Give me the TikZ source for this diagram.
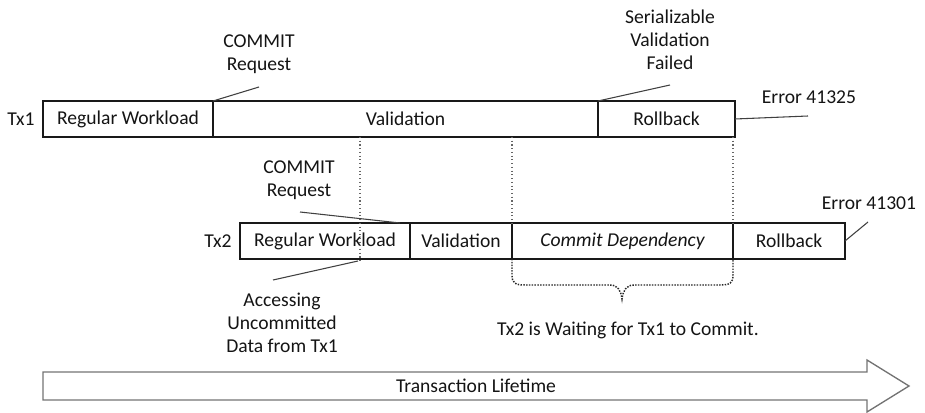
\documentclass[tikz,border=0pt]{standalone}
\usepackage{fontspec}
\setmainfont{Carlito}
\begin{document}
\begin{tikzpicture}[x=0.75pt,y=-0.75pt,
  every node/.style={font=\fontsize{14.7pt}{17.3pt}\selectfont, text=black!92},
  phase/.style={draw=black!90, line width=1.1pt, inner sep=0pt, outer sep=0pt,
    minimum height=27pt, anchor=center},
  note/.style={align=center, inner sep=0pt},
  leader/.style={draw=black!75, line width=0.8pt},
  guide/.style={draw=black!60, line width=0.8pt, dotted},
  bracepath/.style={draw=black!85, line width=1.1pt, densely dotted},
]
\useasboundingbox (0,0) rectangle (925,413);

% Tx1 row
\node[note] (tx1) at (21,119) {Tx1};
\node[phase, minimum width=170*0.75pt] (t1rw) at (128,119) {Regular Workload};
\node[phase, minimum width=385*0.75pt] (t1val) at (405.5,119) {Validation};
\node[phase, minimum width=137*0.75pt] (t1rb) at (666.5,119) {Rollback};

% Tx2 row
\node[note] (tx2) at (218,241) {Tx2};
\node[phase, minimum width=170*0.75pt] (t2rw) at (325,241) {Regular Workload};
\node[phase, minimum width=102*0.75pt] (t2val) at (461,241) {Validation};
\node[phase, minimum width=221*0.75pt] (t2cd) at (622.5,241) {\itshape Commit Dependency};
\node[phase, minimum width=112*0.75pt] (t2rb) at (789,241) {Rollback};

% notes
\node[note] (c1) at (259,54) {COMMIT\\Request};
\node[note] (svf) at (670,40) {Serializable\\Validation\\Failed};
\node[note] (e1) at (809,97) {Error 41325};
\node[note] (c2) at (299,180) {COMMIT\\Request};
\node[note] (e2) at (869,203) {Error 41301};
\node[note] (acc) at (282,323) {Accessing\\Uncommitted\\Data from Tx1};
\node[note] (wait) at (628,330) {Tx2 is Waiting for Tx1 to Commit.};

% leader end points
\coordinate (c1p) at (259,87);
\coordinate (svfp) at (670,85);
\coordinate (e1p) at (808,116);
\coordinate (c2p) at (300,212);
\coordinate (c2q) at (400,223);
\coordinate (accp) at (273,280);
\coordinate (accq) at (358,261);
\coordinate (e2p) at (868,222);

\draw[leader] (c1p) -- (t1val.north west);
\draw[leader] (svfp) -- (t1rb.north west);
\draw[leader] (t1rb.east) -- (e1p);
\draw[leader] (c2p) -- (c2q);
\draw[leader] (accp) -- (accq);
\draw[leader] (t2rb.east) -- (e2p);

% dotted guides
\coordinate (d1) at (360,263);
\draw[guide] (t1val.south -| d1) -- (d1);
\draw[guide] (t1val.south -| t2cd.north west) -- (t2cd.north west);
\draw[guide] (t1val.south -| t2cd.north east) -- (t2cd.north east);

% dotted brace
\coordinate (btip) at (622,299);
\draw[bracepath] (t2cd.south west) -- ++(0,16)
  .. controls ++(0,8) and (515,285) .. (525,285) -- (610,285)
  .. controls (618,285) and (621,291) .. (btip)
  .. controls (623,291) and (626,285) .. (634,285) -- (720,285)
  .. controls (730,285) and (733,283) .. (733,275) -- (t2cd.south east);

% lifetime arrow
\draw[draw=black!55, line width=1pt, line join=miter]
  (43,372) -- (867,372) -- (867,360) -- (909,386) -- (867,412) -- (867,400) -- (43,400) -- cycle;
\node[note] (life) at (476,386) {Transaction Lifetime};
\end{tikzpicture}
\end{document}
